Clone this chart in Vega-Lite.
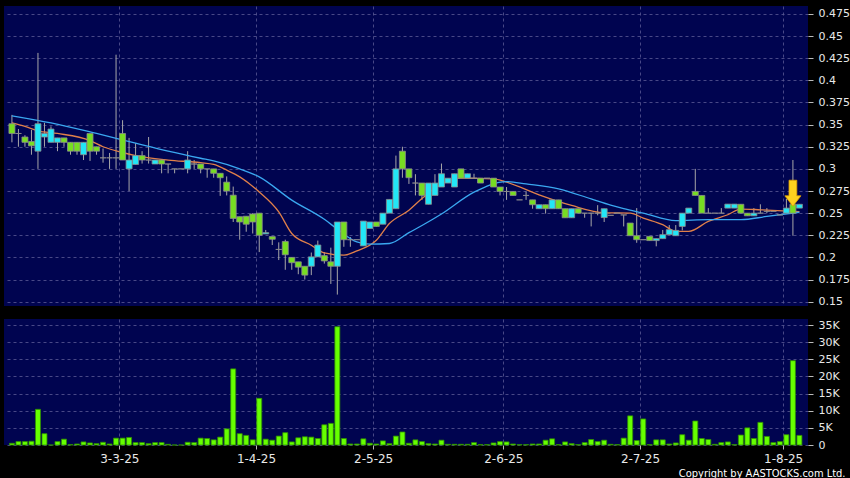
{
  "$schema": "https://vega.github.io/schema/vega-lite/v6.json",
  "background": "#000000",
  "padding": {"left": 4, "top": 6, "right": 0, "bottom": 0},
  "spacing": 12,
  "config": {
    "view": {"fill": "#000450", "stroke": null},
    "axis": {
      "domain": false,
      "gridColor": "#5a5a96",
      "gridDash": [3, 3],
      "gridWidth": 0.8,
      "labelFont": "DejaVu Sans",
      "labelFontSize": 11,
      "labelColor": "#e8e8e8",
      "labelOverlap": false,
      "tickColor": "#bbbbbb",
      "tickSize": 4,
      "title": null
    }
  },
  "datasets": {
    "candles": [
      {"i":0,"o":0.351,"h":0.361,"l":0.330,"c":0.340,"v":500},
      {"i":1,"o":0.340,"h":0.345,"l":0.325,"c":0.340,"v":1000},
      {"i":2,"o":0.336,"h":0.338,"l":0.325,"c":0.330,"v":1000},
      {"i":3,"o":0.331,"h":0.344,"l":0.316,"c":0.326,"v":1100},
      {"i":4,"o":0.320,"h":0.431,"l":0.300,"c":0.351,"v":10400},
      {"i":5,"o":0.336,"h":0.352,"l":0.325,"c":0.340,"v":3300},
      {"i":6,"o":0.330,"h":0.348,"l":0.330,"c":0.345,"v":0},
      {"i":7,"o":0.330,"h":0.335,"l":0.320,"c":0.335,"v":1000},
      {"i":8,"o":0.335,"h":0.335,"l":0.325,"c":0.330,"v":1700},
      {"i":9,"o":0.330,"h":0.330,"l":0.316,"c":0.320,"v":100},
      {"i":10,"o":0.330,"h":0.330,"l":0.316,"c":0.320,"v":300},
      {"i":11,"o":0.316,"h":0.330,"l":0.310,"c":0.330,"v":900},
      {"i":12,"o":0.340,"h":0.340,"l":0.309,"c":0.320,"v":600},
      {"i":13,"o":0.325,"h":0.325,"l":0.316,"c":0.320,"v":400},
      {"i":14,"o":0.3125,"h":0.323,"l":0.307,"c":0.3125,"v":800},
      {"i":15,"o":0.3125,"h":0.318,"l":0.300,"c":0.3125,"v":300},
      {"i":16,"o":0.3125,"h":0.429,"l":0.300,"c":0.3125,"v":2000},
      {"i":17,"o":0.340,"h":0.355,"l":0.310,"c":0.310,"v":2000},
      {"i":18,"o":0.300,"h":0.335,"l":0.275,"c":0.310,"v":2200},
      {"i":19,"o":0.305,"h":0.329,"l":0.305,"c":0.315,"v":700},
      {"i":20,"o":0.315,"h":0.320,"l":0.306,"c":0.310,"v":700},
      {"i":21,"o":0.310,"h":0.336,"l":0.306,"c":0.310,"v":400},
      {"i":22,"o":0.3055,"h":0.310,"l":0.3055,"c":0.310,"v":700},
      {"i":23,"o":0.310,"h":0.310,"l":0.295,"c":0.3055,"v":700},
      {"i":24,"o":0.3055,"h":0.3055,"l":0.295,"c":0.3055,"v":200},
      {"i":25,"o":0.300,"h":0.300,"l":0.295,"c":0.300,"v":0},
      {"i":26,"o":0.300,"h":0.300,"l":0.300,"c":0.300,"v":0},
      {"i":27,"o":0.300,"h":0.320,"l":0.295,"c":0.310,"v":800},
      {"i":28,"o":0.3055,"h":0.310,"l":0.300,"c":0.3055,"v":700},
      {"i":29,"o":0.3055,"h":0.3055,"l":0.295,"c":0.300,"v":2000},
      {"i":30,"o":0.300,"h":0.300,"l":0.290,"c":0.300,"v":1900},
      {"i":31,"o":0.300,"h":0.300,"l":0.290,"c":0.295,"v":1500},
      {"i":32,"o":0.295,"h":0.295,"l":0.2695,"c":0.290,"v":2300},
      {"i":33,"o":0.285,"h":0.2915,"l":0.270,"c":0.275,"v":4700},
      {"i":34,"o":0.2703,"h":0.280,"l":0.240,"c":0.244,"v":22200},
      {"i":35,"o":0.246,"h":0.246,"l":0.220,"c":0.240,"v":3300},
      {"i":36,"o":0.2465,"h":0.2465,"l":0.229,"c":0.2375,"v":2800},
      {"i":37,"o":0.249,"h":0.250,"l":0.227,"c":0.240,"v":1500},
      {"i":38,"o":0.250,"h":0.250,"l":0.206,"c":0.225,"v":13600},
      {"i":39,"o":0.2265,"h":0.231,"l":0.2265,"c":0.228,"v":1700},
      {"i":40,"o":0.2235,"h":0.2235,"l":0.214,"c":0.2205,"v":1400},
      {"i":41,"o":0.209,"h":0.217,"l":0.197,"c":0.209,"v":2600},
      {"i":42,"o":0.218,"h":0.220,"l":0.186,"c":0.203,"v":3600},
      {"i":43,"o":0.200,"h":0.200,"l":0.186,"c":0.194,"v":900},
      {"i":44,"o":0.195,"h":0.195,"l":0.181,"c":0.189,"v":2100},
      {"i":45,"o":0.190,"h":0.190,"l":0.175,"c":0.180,"v":2400},
      {"i":46,"o":0.190,"h":0.2055,"l":0.180,"c":0.2006,"v":2300},
      {"i":47,"o":0.2006,"h":0.219,"l":0.2006,"c":0.214,"v":1900},
      {"i":48,"o":0.202,"h":0.206,"l":0.193,"c":0.196,"v":5900},
      {"i":49,"o":0.195,"h":0.211,"l":0.170,"c":0.190,"v":6300},
      {"i":50,"o":0.190,"h":0.240,"l":0.158,"c":0.240,"v":34500},
      {"i":51,"o":0.240,"h":0.240,"l":0.212,"c":0.220,"v":1900},
      {"i":52,"o":0.220,"h":0.223,"l":0.212,"c":0.220,"v":300},
      {"i":53,"o":0.220,"h":0.220,"l":0.220,"c":0.220,"v":300},
      {"i":54,"o":0.213,"h":0.241,"l":0.213,"c":0.241,"v":1800},
      {"i":55,"o":0.2326,"h":0.240,"l":0.2326,"c":0.240,"v":500},
      {"i":56,"o":0.240,"h":0.240,"l":0.235,"c":0.235,"v":300},
      {"i":57,"o":0.2375,"h":0.250,"l":0.2375,"c":0.250,"v":1200},
      {"i":58,"o":0.250,"h":0.2655,"l":0.250,"c":0.2655,"v":400},
      {"i":59,"o":0.255,"h":0.315,"l":0.255,"c":0.300,"v":2600},
      {"i":60,"o":0.320,"h":0.325,"l":0.290,"c":0.300,"v":3800},
      {"i":61,"o":0.300,"h":0.300,"l":0.283,"c":0.290,"v":500},
      {"i":62,"o":0.284,"h":0.294,"l":0.270,"c":0.284,"v":1500},
      {"i":63,"o":0.284,"h":0.284,"l":0.265,"c":0.270,"v":1000},
      {"i":64,"o":0.260,"h":0.284,"l":0.260,"c":0.284,"v":400},
      {"i":65,"o":0.270,"h":0.294,"l":0.270,"c":0.284,"v":300},
      {"i":66,"o":0.2795,"h":0.306,"l":0.2795,"c":0.2945,"v":1400},
      {"i":67,"o":0.284,"h":0.2895,"l":0.284,"c":0.2895,"v":200},
      {"i":68,"o":0.2795,"h":0.2945,"l":0.2795,"c":0.2945,"v":200},
      {"i":69,"o":0.300,"h":0.300,"l":0.2895,"c":0.2895,"v":200},
      {"i":70,"o":0.2895,"h":0.2945,"l":0.2895,"c":0.2945,"v":200},
      {"i":71,"o":0.2895,"h":0.2945,"l":0.2895,"c":0.2895,"v":700},
      {"i":72,"o":0.2895,"h":0.2895,"l":0.284,"c":0.284,"v":100},
      {"i":73,"o":0.2895,"h":0.2895,"l":0.2895,"c":0.2895,"v":100},
      {"i":74,"o":0.2895,"h":0.2895,"l":0.2795,"c":0.2795,"v":600},
      {"i":75,"o":0.2795,"h":0.2795,"l":0.270,"c":0.2745,"v":1000},
      {"i":76,"o":0.2745,"h":0.2795,"l":0.265,"c":0.2745,"v":900},
      {"i":77,"o":0.2745,"h":0.2745,"l":0.270,"c":0.270,"v":300},
      {"i":78,"o":0.265,"h":0.265,"l":0.265,"c":0.265,"v":100},
      {"i":79,"o":0.270,"h":0.2745,"l":0.265,"c":0.270,"v":100},
      {"i":80,"o":0.265,"h":0.265,"l":0.255,"c":0.2595,"v":300},
      {"i":81,"o":0.255,"h":0.2595,"l":0.255,"c":0.2595,"v":300},
      {"i":82,"o":0.2595,"h":0.2595,"l":0.2495,"c":0.255,"v":1400},
      {"i":83,"o":0.255,"h":0.265,"l":0.255,"c":0.265,"v":1800},
      {"i":84,"o":0.265,"h":0.265,"l":0.255,"c":0.255,"v":100},
      {"i":85,"o":0.255,"h":0.255,"l":0.2448,"c":0.2448,"v":900},
      {"i":86,"o":0.2448,"h":0.255,"l":0.2448,"c":0.255,"v":400},
      {"i":87,"o":0.255,"h":0.255,"l":0.250,"c":0.250,"v":100},
      {"i":88,"o":0.250,"h":0.250,"l":0.2448,"c":0.250,"v":700},
      {"i":89,"o":0.250,"h":0.250,"l":0.235,"c":0.250,"v":1600},
      {"i":90,"o":0.250,"h":0.259,"l":0.2475,"c":0.250,"v":1000},
      {"i":91,"o":0.245,"h":0.255,"l":0.240,"c":0.255,"v":1400},
      {"i":92,"o":0.2475,"h":0.2475,"l":0.2475,"c":0.2475,"v":200},
      {"i":93,"o":0.250,"h":0.250,"l":0.250,"c":0.250,"v":100},
      {"i":94,"o":0.248,"h":0.248,"l":0.235,"c":0.248,"v":2000},
      {"i":95,"o":0.2388,"h":0.2388,"l":0.2245,"c":0.2245,"v":8500},
      {"i":96,"o":0.2245,"h":0.2557,"l":0.2165,"c":0.220,"v":1300},
      {"i":97,"o":0.220,"h":0.220,"l":0.220,"c":0.220,"v":7600},
      {"i":98,"o":0.2238,"h":0.2238,"l":0.219,"c":0.219,"v":100},
      {"i":99,"o":0.219,"h":0.2212,"l":0.2125,"c":0.2212,"v":1500},
      {"i":100,"o":0.2212,"h":0.231,"l":0.2212,"c":0.2257,"v":1500},
      {"i":101,"o":0.2257,"h":0.2365,"l":0.2257,"c":0.2313,"v":300},
      {"i":102,"o":0.2245,"h":0.2365,"l":0.2245,"c":0.2305,"v":600},
      {"i":103,"o":0.235,"h":0.250,"l":0.2305,"c":0.250,"v":3000},
      {"i":104,"o":0.250,"h":0.2557,"l":0.250,"c":0.2557,"v":1400},
      {"i":105,"o":0.2745,"h":0.300,"l":0.270,"c":0.270,"v":7000},
      {"i":106,"o":0.270,"h":0.270,"l":0.250,"c":0.250,"v":1900},
      {"i":107,"o":0.250,"h":0.2557,"l":0.250,"c":0.250,"v":1600},
      {"i":108,"o":0.250,"h":0.250,"l":0.250,"c":0.250,"v":200},
      {"i":109,"o":0.250,"h":0.2557,"l":0.250,"c":0.250,"v":700},
      {"i":110,"o":0.2557,"h":0.2602,"l":0.2557,"c":0.2602,"v":900},
      {"i":111,"o":0.2557,"h":0.2602,"l":0.2557,"c":0.2602,"v":100},
      {"i":112,"o":0.260,"h":0.260,"l":0.250,"c":0.250,"v":2900},
      {"i":113,"o":0.250,"h":0.250,"l":0.247,"c":0.247,"v":5000},
      {"i":114,"o":0.247,"h":0.2557,"l":0.247,"c":0.250,"v":1900},
      {"i":115,"o":0.250,"h":0.260,"l":0.250,"c":0.250,"v":6600},
      {"i":116,"o":0.252,"h":0.2557,"l":0.250,"c":0.252,"v":2500},
      {"i":117,"o":0.252,"h":0.252,"l":0.252,"c":0.252,"v":700},
      {"i":118,"o":0.248,"h":0.248,"l":0.248,"c":0.248,"v":1000},
      {"i":119,"o":0.250,"h":0.266,"l":0.250,"c":0.2557,"v":3000},
      {"i":120,"o":0.260,"h":0.310,"l":0.2245,"c":0.250,"v":24600},
      {"i":121,"o":0.2557,"h":0.260,"l":0.2557,"c":0.260,"v":2800}
    ],
    "ma": [
      {"i":0,"s":"ma10","p":0.352},{"i":2,"s":"ma10","p":0.348},{"i":4,"s":"ma10","p":0.343},{"i":7,"s":"ma10","p":0.340},
      {"i":12,"s":"ma10","p":0.332},{"i":14,"s":"ma10","p":0.325},{"i":17,"s":"ma10","p":0.3185},{"i":19,"s":"ma10","p":0.315},
      {"i":24,"s":"ma10","p":0.310},{"i":29,"s":"ma10","p":0.307},{"i":31,"s":"ma10","p":0.305},{"i":33,"s":"ma10","p":0.2986},
      {"i":35,"s":"ma10","p":0.291},{"i":38,"s":"ma10","p":0.274},{"i":41,"s":"ma10","p":0.2515},{"i":43,"s":"ma10","p":0.227},
      {"i":46,"s":"ma10","p":0.2138},{"i":48,"s":"ma10","p":0.205},{"i":51,"s":"ma10","p":0.2025},{"i":53,"s":"ma10","p":0.2074},
      {"i":56,"s":"ma10","p":0.2194},{"i":58,"s":"ma10","p":0.2383},{"i":61,"s":"ma10","p":0.2533},{"i":63,"s":"ma10","p":0.2665},
      {"i":66,"s":"ma10","p":0.283},{"i":69,"s":"ma10","p":0.2895},{"i":74,"s":"ma10","p":0.2887},{"i":76,"s":"ma10","p":0.285},
      {"i":81,"s":"ma10","p":0.2707},{"i":86,"s":"ma10","p":0.2587},{"i":91,"s":"ma10","p":0.2504},{"i":95,"s":"ma10","p":0.250},
      {"i":97,"s":"ma10","p":0.2444},{"i":100,"s":"ma10","p":0.237},{"i":102,"s":"ma10","p":0.2294},{"i":104,"s":"ma10","p":0.2294},
      {"i":107,"s":"ma10","p":0.2407},{"i":110,"s":"ma10","p":0.2482},{"i":112,"s":"ma10","p":0.2546},{"i":115,"s":"ma10","p":0.2538},
      {"i":120,"s":"ma10","p":0.252},{"i":121,"s":"ma10","p":0.2516},
      {"i":0,"s":"ma20","p":0.360},{"i":6,"s":"ma20","p":0.352},{"i":13,"s":"ma20","p":0.340},{"i":19,"s":"ma20","p":0.329},
      {"i":24,"s":"ma20","p":0.320},{"i":29,"s":"ma20","p":0.312},{"i":31,"s":"ma20","p":0.309},{"i":35,"s":"ma20","p":0.300},
      {"i":38,"s":"ma20","p":0.291},{"i":43,"s":"ma20","p":0.2647},{"i":48,"s":"ma20","p":0.243},{"i":50,"s":"ma20","p":0.232},
      {"i":53,"s":"ma20","p":0.2175},{"i":55,"s":"ma20","p":0.215},{"i":58,"s":"ma20","p":0.2157},{"i":61,"s":"ma20","p":0.228},
      {"i":63,"s":"ma20","p":0.236},{"i":66,"s":"ma20","p":0.249},{"i":71,"s":"ma20","p":0.2737},{"i":76,"s":"ma20","p":0.2857},
      {"i":79,"s":"ma20","p":0.283},{"i":84,"s":"ma20","p":0.2775},{"i":89,"s":"ma20","p":0.266},{"i":92,"s":"ma20","p":0.259},
      {"i":94,"s":"ma20","p":0.255},{"i":97,"s":"ma20","p":0.250},{"i":102,"s":"ma20","p":0.2415},{"i":107,"s":"ma20","p":0.2426},
      {"i":112,"s":"ma20","p":0.2426},{"i":116,"s":"ma20","p":0.2463},{"i":121,"s":"ma20","p":0.251}
    ],
    "marker": [{"i":120,"p":0.2725}]
  },
  "vconcat": [
    {
      "width": 804,
      "height": 300,
      "encoding": {
        "x": {"field": "i", "type": "quantitative",
          "scale": {"domain": [-0.45, 121.55], "nice": false, "zero": false},
          "axis": {"values": [16.5, 37.5, 55.5, 75.5, 96.5, 118.5], "grid": true, "labels": false, "ticks": false, "domain": false}}
      },
      "layer": [
        {
          "data": {"name": "candles"},
          "mark": {"type": "rule", "color": "#a8a8a8", "strokeWidth": 1},
          "encoding": {
            "y": {"field": "l", "type": "quantitative",
              "scale": {"domain": [0.1451, 0.484], "nice": false, "zero": false},
              "axis": {"orient": "right", "values": [0.15,0.175,0.2,0.225,0.25,0.275,0.3,0.325,0.35,0.375,0.4,0.425,0.45,0.475], "format": ".3~g", "grid": true, "labelPadding": 5, "tickSize": 5}},
            "y2": {"field": "h"}
          }
        },
        {
          "data": {"name": "ma"},
          "mark": {"type": "line", "strokeWidth": 1.3, "interpolate": "monotone"},
          "encoding": {
            "y": {"field": "p", "type": "quantitative",
              "axis": {"orient": "right", "values": [0.15,0.175,0.2,0.225,0.25,0.275,0.3,0.325,0.35,0.375,0.4,0.425,0.45,0.475], "format": ".3~g", "grid": true, "labelPadding": 5, "tickSize": 5}},
            "color": {"field": "s", "type": "nominal", "scale": {"domain": ["ma10", "ma20"], "range": ["#e0804a", "#3aa8f0"]}, "legend": null}
          }
        },
        {
          "data": {"name": "candles"},
          "mark": {"type": "bar", "size": 6, "stroke": "#8c8c8c", "strokeWidth": 0.8},
          "encoding": {
            "y": {"field": "o", "type": "quantitative",
              "axis": {"orient": "right", "values": [0.15,0.175,0.2,0.225,0.25,0.275,0.3,0.325,0.35,0.375,0.4,0.425,0.45,0.475], "format": ".3~g", "grid": true, "labelPadding": 5, "tickSize": 5}},
            "y2": {"field": "c"},
            "fill": {"condition": {"test": "datum.c > datum.o", "value": "#22e6f6"}, "value": "#77dd22"}
          }
        },
        {
          "data": {"name": "marker"},
          "mark": {"type": "point", "filled": true, "size": 676, "fill": "#ffd21f", "stroke": "#e0a000", "strokeWidth": 0.8, "opacity": 1,
            "shape": "M-0.3,-1L0.3,-1L0.3,0.2L0.62,0.2L0,1L-0.62,0.2L-0.3,0.2Z"},
          "encoding": {
            "y": {"field": "p", "type": "quantitative",
              "axis": {"orient": "right", "values": [0.15,0.175,0.2,0.225,0.25,0.275,0.3,0.325,0.35,0.375,0.4,0.425,0.45,0.475], "format": ".3~g", "grid": true, "labelPadding": 5, "tickSize": 5}}
          }
        }
      ]
    },
    {
      "width": 804,
      "height": 126,
      "data": {"name": "candles"},
      "mark": {"type": "bar", "size": 5, "fill": "#66ff00", "stroke": "#2f8f00", "strokeWidth": 0.8},
      "encoding": {
        "x": {"field": "i", "type": "quantitative",
          "scale": {"domain": [-0.45, 121.55], "nice": false, "zero": false},
          "axis": {"values": [16.5, 37.5, 55.5, 75.5, 96.5, 118.5], "grid": true, "ticks": true, "domain": false,
            "labelExpr": "datum.value < 20 ? '3-3-25' : datum.value < 40 ? '1-4-25' : datum.value < 60 ? '2-5-25' : datum.value < 80 ? '2-6-25' : datum.value < 100 ? '2-7-25' : '1-8-25'",
            "labelFontSize": 12, "labelPadding": 4,
            "title": "Copyright by AASTOCKS.com Ltd.",
            "titleFont": "DejaVu Sans Condensed, Liberation Sans Narrow, Liberation Sans",
            "titleFontSize": 11, "titleFontWeight": "normal", "titleColor": "#ffffff",
            "titleX": 841, "titleY": 33, "titleAlign": "right", "titleBaseline": "bottom", "titleAnchor": null}},
        "y": {"field": "v", "type": "quantitative",
          "scale": {"domain": [0, 36750], "nice": false},
          "axis": {"orient": "right", "values": [0,5000,10000,15000,20000,25000,30000,35000],
            "labelExpr": "datum.value == 0 ? '0' : (datum.value / 1000) + 'K'", "grid": true, "labelPadding": 5, "tickSize": 5}}
      }
    }
  ]
}
